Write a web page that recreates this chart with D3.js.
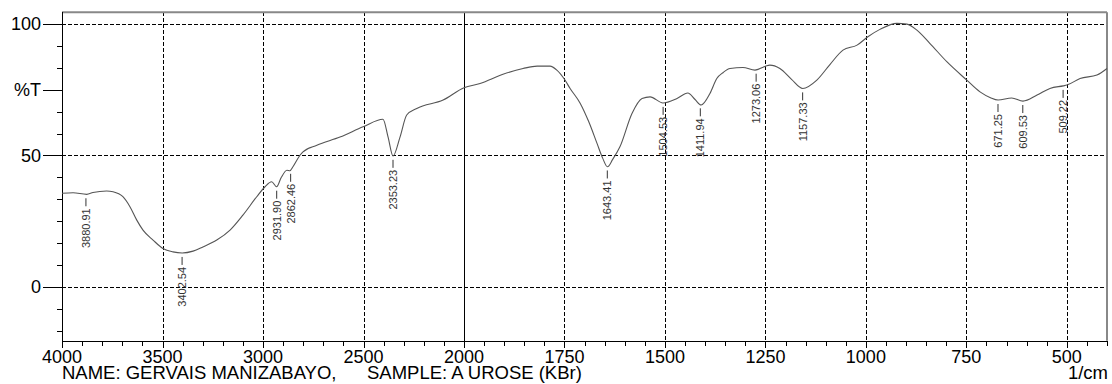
<!DOCTYPE html>
<html lang="en">
<head>
<meta charset="utf-8">
<title>IR spectrum</title>
<script src="https://cdn.jsdelivr.net/npm/d3@7"></script>
<style>
  body { margin: 0; background: #fff; }
  svg { font-family: Arial, "Liberation Sans", sans-serif; }
  .grid line { stroke: #000; stroke-width: 1; stroke-dasharray: 4 2; shape-rendering: crispEdges; }
  .tick-mark { stroke: #000; stroke-width: 1; shape-rendering: crispEdges; }
</style>
</head>
<body>
<script>
// spectrum (wavenumber 1/cm, %T)
var wavenumbers = [4000, 3945, 3877, 3846, 3778, 3746, 3697, 3662, 3628, 3597, 3547, 3498, 3448, 3402,
  3348, 3299, 3230, 3164, 3100, 3031, 2990, 2957, 2932, 2910, 2881, 2866, 2851, 2816, 2801, 2732, 2617,
  2502, 2403, 2378, 2353, 2318, 2285, 2235, 2104, 2000, 1960, 1903, 1853, 1818, 1786, 1769, 1750, 1736,
  1711, 1690, 1669, 1655, 1643, 1630, 1612, 1582, 1557, 1537, 1505, 1470, 1443, 1425, 1410, 1388, 1371,
  1355, 1338, 1306, 1276, 1239, 1214, 1185, 1157, 1122, 1089, 1057, 1022, 995, 965, 923, 898, 873, 841,
  798, 749, 716, 690, 671, 637, 609, 574, 542, 509, 500, 467, 425, 400];
var transmittance = [35.6, 35.8, 35.2, 35.9, 36.5, 36.2, 34.3, 30.5, 25.4, 21.6, 17.8, 14.6, 13.3, 12.9,
  13.6, 15.2, 17.8, 21.6, 27.3, 34.3, 38.1, 40.0, 38.1, 41.5, 44.4, 44.2, 45.7, 50.1, 51.4, 53.9, 57.0,
  60.9, 63.8, 57.1, 49.8, 57.1, 65.4, 67.9, 71.1, 75.8, 77.4, 80.9, 83.1, 84.0, 84.0, 82.5, 79.0, 75.5,
  69.9, 63.0, 54.6, 49.0, 45.7, 48.5, 53.3, 66.0, 71.7, 72.3, 70.0, 71.7, 73.8, 71.3, 69.2, 73.6, 79.3,
  81.6, 83.1, 83.5, 82.5, 84.4, 83.1, 79.0, 75.5, 78.7, 84.7, 90.1, 92.0, 95.2, 98.0, 100.3, 100.0, 97.7, 92.7,
  85.6, 78.7, 74.2, 72.0, 71.1, 71.9, 70.7, 73.0, 75.5, 76.5, 76.8, 79.3, 80.6, 83.1];

var peakLabels = ["3880.91", "3402.54", "2931.90", "2862.46", "2353.23", "1643.41", "1504.53",
  "1411.94", "1273.06", "1157.33", "671.25", "609.53", "509.22"];

var xMajor = [4000, 3500, 3000, 2500, 2000, 1750, 1500, 1250, 1000, 750, 500];
var yLabels = [100, 75, 50, 0];
var yLabelText = ["100", "%T", "50", "0"];
var yGrid = [100, 50, 0];

var nameText = "NAME: GERVAIS MANIZABAYO,";
var sampleText = "SAMPLE: A UROSE (KBr)";
var unitText = "1/cm";

var width = 1112, height = 384;
var plotLeft = 62, plotRight = 1107, plotTop = 12.3, plotBottom = 340.7;

// the x axis changes its scale at 2000
var x = d3.scaleLinear().domain([4000, 2000, 400]).range([plotLeft, 464, plotRight]);
var y = d3.scaleLinear().domain([-20.5, 104.5]).range([plotBottom, plotTop]);

var svg = d3.select("body").append("svg")
  .attr("width", width).attr("height", height);

// minor ticks
var xMinor = d3.range(4000, 1999, -100).concat(d3.range(1950, 399, -50));
var yMinor = d3.range(-2, 13).map(function(i) { return i * 25 / 3; });

function isLabelled(d) {
  return yLabels.some(function(v) { return Math.abs(v - d) < 0.01; });
}

// gridlines
var grid = svg.append("g").attr("class", "grid");
grid.selectAll("line.h").data(yGrid).enter().append("line")
  .attr("class", "h")
  .attr("x1", plotLeft).attr("x2", plotRight)
  .attr("y1", function(d) { return Math.round(y(d)) + 0.5; })
  .attr("y2", function(d) { return Math.round(y(d)) + 0.5; });
grid.selectAll("line.v").data(xMajor.filter(function(d) { return d !== 4000; })).enter().append("line")
  .attr("class", "v")
  .attr("y1", plotTop).attr("y2", plotBottom)
  .attr("x1", function(d) { return Math.round(x(d)) + 0.5; })
  .attr("x2", function(d) { return Math.round(x(d)) + 0.5; })
  .style("stroke-dasharray", function(d) { return d === 2000 ? "none" : null; });

// frame
svg.append("line").attr("x1", plotLeft).attr("x2", plotRight).attr("y1", plotTop).attr("y2", plotTop)
  .attr("stroke", "#888").attr("stroke-width", 2);
svg.append("line").attr("x1", plotRight).attr("x2", plotRight).attr("y1", plotTop).attr("y2", plotBottom)
  .attr("stroke", "#888").attr("stroke-width", 2);
svg.append("line").attr("class", "tick-mark").attr("x1", plotLeft + 0.5).attr("x2", plotLeft + 0.5)
  .attr("y1", plotTop).attr("y2", plotBottom);
svg.append("line").attr("class", "tick-mark").attr("x1", plotLeft).attr("x2", plotRight)
  .attr("y1", Math.round(plotBottom) + 0.5).attr("y2", Math.round(plotBottom) + 0.5);

// x ticks
svg.append("g").selectAll("line").data(xMinor).enter().append("line")
  .attr("class", "tick-mark")
  .attr("x1", function(d) { return Math.round(x(d)) + 0.5; })
  .attr("x2", function(d) { return Math.round(x(d)) + 0.5; })
  .attr("y1", plotBottom)
  .attr("y2", function(d) { return plotBottom + (xMajor.indexOf(d) >= 0 ? 7 : 5); });

svg.append("g").selectAll("text").data(xMajor).enter().append("text")
  .attr("x", function(d) { return x(d); })
  .attr("y", 363)
  .attr("text-anchor", "middle")
  .attr("font-size", 18)
  .text(function(d) { return d; });

// y ticks
svg.append("g").selectAll("line").data(yMinor).enter().append("line")
  .attr("class", "tick-mark")
  .attr("y1", function(d) { return Math.round(y(d)) + 0.5; })
  .attr("y2", function(d) { return Math.round(y(d)) + 0.5; })
  .attr("x2", plotLeft)
  .attr("x1", function(d) { return plotLeft - (isLabelled(d) ? 19 : 5); });

svg.append("g").selectAll("text").data(yLabels).enter().append("text")
  .attr("x", 41)
  .attr("y", function(d) { return y(d); })
  .attr("dy", "0.35em")
  .attr("text-anchor", "end")
  .attr("font-size", 18)
  .text(function(d, i) { return yLabelText[i]; });

// the spectrum
var points = wavenumbers.map(function(w, i) { return [w, transmittance[i]]; });
var line = d3.line()
  .x(function(d) { return x(d[0]); })
  .y(function(d) { return y(d[1]); })
  .curve(d3.curveMonotoneX);
svg.append("path").datum(points)
  .attr("fill", "none").attr("stroke", "#555").attr("stroke-width", 1.1)
  .attr("d", line);

// value of the curve at a wavenumber
function curveAt(w) {
  for (var i = 0; i < wavenumbers.length - 1; i++) {
    var a = wavenumbers[i], b = wavenumbers[i + 1];
    if (w <= a && w >= b) {
      var t = (a - w) / (a - b);
      return transmittance[i] + t * (transmittance[i + 1] - transmittance[i]);
    }
  }
  return transmittance[transmittance.length - 1];
}

// peak labels hang under the curve
var peaks = svg.append("g").selectAll("g").data(peakLabels).enter().append("g")
  .attr("transform", function(d) {
    var w = +d;
    return "translate(" + x(w) + "," + y(curveAt(w)) + ")";
  });
peaks.append("line")
  .attr("x1", 0).attr("x2", 0).attr("y1", 4).attr("y2", 12)
  .attr("stroke", "#333");
peaks.append("text")
  .attr("transform", "translate(0,14) rotate(-90)")
  .attr("text-anchor", "end")
  .attr("dy", "0.35em")
  .attr("font-size", 11)
  .attr("fill", "#333")
  .text(function(d) { return d; });

// footer
svg.append("text").attr("x", 62).attr("y", 379).attr("font-size", 18.5).text(nameText);
svg.append("text").attr("x", 367).attr("y", 379).attr("font-size", 18.5).text(sampleText);
svg.append("text").attr("x", 1108).attr("y", 379).attr("font-size", 18.5)
  .attr("text-anchor", "end").text(unitText);
</script>
</body>
</html>
